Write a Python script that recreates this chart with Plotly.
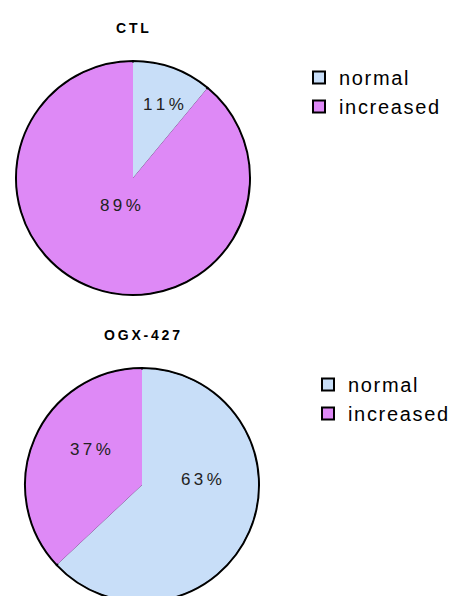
import plotly.graph_objects as go

# ---- data ----
categories = ["normal", "increased"]
ctl_values = [11, 89]
ogx_values = [63, 37]
titles = ["CTL", "OGX-427"]
colors = ["#C8DEF8", "#DE89F6"]

# ---- layout helpers (page body adds an 8px margin; work in page coords) ----
W, H = 463, 596
OFF = 8
FONT = "Arial, Liberation Sans, Helvetica, sans-serif"
HAIR = "\u200a"
THIN = "\u2009"


def spaced(s, sep):
    return sep.join(list(s))


def px(x):
    return (x - OFF) / W


def py(y):
    return 1 - (y - OFF) / H


def dom(cx, cy, r):
    return dict(x=[px(cx - r), px(cx + r)],
                y=[max(0.0, py(cy + r)), min(1.0, py(cy - r))])


# pie centres (page px), radius, label offsets (page px from centre), title y
pies = [
    dict(vals=ctl_values, c=(133, 178), leg="legend", suffix="",
         lab_off=[(30, -74), (-13, 27.5)], ty=28),
    dict(vals=ogx_values, c=(142, 485), leg="legend2", suffix="\u200b",
         lab_off=[(59, -6), (-52, -36)], ty=335),
]
R = 117

fig = go.Figure()
annotations = []
for p, title in zip(pies, titles):
    vals = p["vals"]
    cx, cy = p["c"]
    labels_sp = [spaced(c, HAIR) + p["suffix"] for c in categories]
    total = sum(vals)
    # bottom pie: outlined (gives outer border + legend swatches)
    fig.add_trace(go.Pie(
        labels=labels_sp, values=vals, sort=False, direction="clockwise",
        rotation=0, domain=dom(cx, cy, R),
        marker=dict(colors=colors, line=dict(color="black", width=2)),
        textinfo="none", hoverinfo="skip", legend=p["leg"], showlegend=True,
    ))
    # top pie: no slice borders between slices
    fig.add_trace(go.Pie(
        labels=labels_sp, values=vals, sort=False, direction="clockwise",
        rotation=0, domain=dom(cx, cy, R - 1.5),
        marker=dict(colors=colors, line=dict(width=0)),
        textinfo="none", legend=p["leg"], showlegend=False,
    ))
    for v, (dx, dy) in zip(vals, p["lab_off"]):
        annotations.append(dict(
            text=spaced(f"{round(100 * v / total)}%", THIN),
            x=px(cx + dx), y=py(cy + dy), xref="paper", yref="paper",
            showarrow=False, xanchor="center", yanchor="middle",
            font=dict(family=FONT, size=17, color="#222222"),
        ))
    annotations.append(dict(
        text=f"<b>{spaced(title, THIN)}</b>", x=px(cx), y=py(p["ty"]),
        xref="paper", yref="paper", showarrow=False,
        font=dict(family=FONT, size=14, color="black"),
        xanchor="center", yanchor="middle",
    ))

legfont = dict(family=FONT, size=20, color="black")
fig.update_layout(
    width=W, height=H, margin=dict(l=0, r=0, t=0, b=0),
    paper_bgcolor="white", plot_bgcolor="white",
    showlegend=True,
    legend=dict(x=px(299), y=py(58), xanchor="left", yanchor="top",
                font=legfont, bgcolor="rgba(0,0,0,0)", traceorder="normal"),
    legend2=dict(x=px(308), y=py(365), xanchor="left", yanchor="top",
                 font=legfont, bgcolor="rgba(0,0,0,0)", traceorder="normal"),
    annotations=annotations,
)

fig.write_html("out.html")
